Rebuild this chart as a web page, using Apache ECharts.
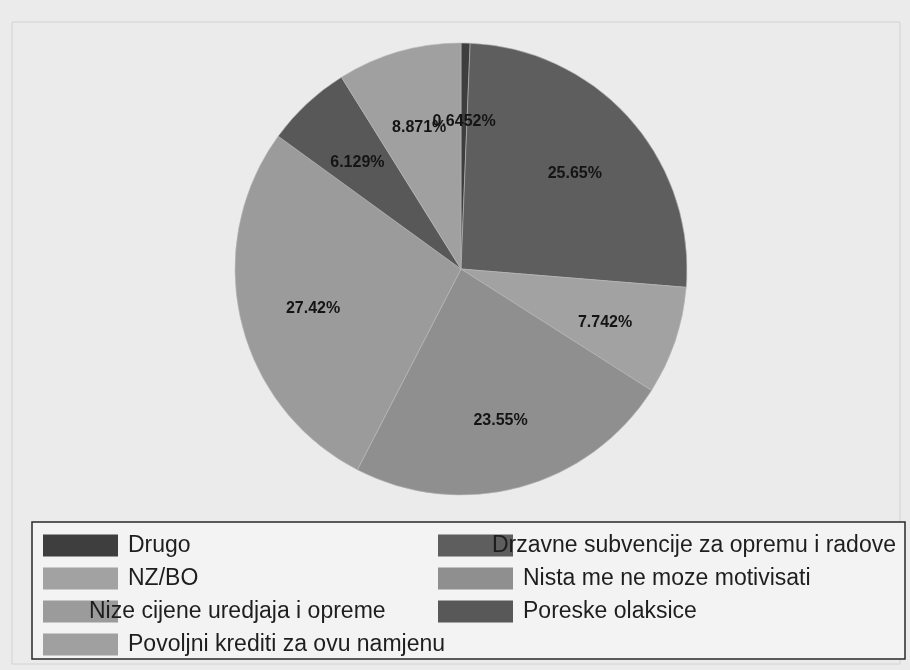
<!DOCTYPE html>
<html>
<head>
<meta charset="utf-8">
<script src="https://cdn.jsdelivr.net/npm/echarts@6/dist/echarts.min.js"></script>
<style>html,body{margin:0;padding:0;background:#ebebeb;}#c{width:910px;height:670px;}</style>
</head>
<body>
<div id="c"></div>
<script>
const categories = ["Drugo", "Drzavne subvencije za opremu i radove", "NZ/BO", "Nista me ne moze motivisati", "Nize cijene uredjaja i opreme", "Poreske olaksice", "Povoljni krediti za ovu namjenu"];
const values = [0.6452, 25.65, 7.742, 23.55, 27.42, 6.129, 8.871];
const labels = ["0.6452%", "25.65%", "7.742%", "23.55%", "27.42%", "6.129%", "8.871%"];
const colors = ["#3e3e3e", "#5e5e5e", "#a2a2a2", "#8f8f8f", "#9b9b9b", "#585858", "#a0a0a0"];
const legendCol1 = ["Drugo", "NZ/BO", "Nize cijene uredjaja i opreme", "Povoljni krediti za ovu namjenu"];
const legendCol2 = ["Drzavne subvencije za opremu i radove", "Nista me ne moze motivisati", "Poreske olaksice"];
const legendTextShift = {"Nize cijene uredjaja i opreme": -39, "Drzavne subvencije za opremu i radove": -31};

const chart = echarts.init(document.getElementById('c'), null, {renderer: 'canvas'});
const data = categories.map((n, i) => ({name: n, value: values[i], itemStyle: {color: colors[i]}}));
const labelData = categories.map((n, i) => ({name: n, value: values[i]}));
const legendItems = names => names.map(n => legendTextShift[n] !== undefined
  ? {name: n, textStyle: {padding: [0, 0, 0, 5 + legendTextShift[n]]}}
  : {name: n});
const legendCommon = {
  orient: 'vertical', top: 534, height: 200, padding: 0,
  itemWidth: 75, itemHeight: 22, itemGap: 10,
  icon: 'rect', selectedMode: false,
  itemStyle: {borderWidth: 0},
  textStyle: {fontFamily: 'Liberation Sans, Arial', fontSize: 23, lineHeight: 22, color: '#1e1e1e', padding: [0, 0, 0, 5]}
};
chart.setOption({
  backgroundColor: '#ebebeb',
  animation: false,
  graphic: [
    {type: 'rect', shape: {x: 12, y: 22, width: 888, height: 642}, style: {fill: 'none', stroke: '#d2d2d2', lineWidth: 1}, z: -1},
    {type: 'rect', shape: {x: 32, y: 522, width: 873, height: 137}, style: {fill: '#f3f3f3', stroke: '#2a2a2a', lineWidth: 1.5}, z: -1}
  ],
  legend: [
    Object.assign({}, legendCommon, {left: 43, data: legendItems(legendCol1)}),
    Object.assign({}, legendCommon, {left: 438, data: legendItems(legendCol2)})
  ],
  series: [
    {
      type: 'pie', center: [461, 269], radius: [0, 226], startAngle: 90, clockwise: true,
      data: data, label: {show: false}, labelLine: {show: false},
      itemStyle: {borderColor: '#b8b8b8', borderWidth: 0.6},
      emphasis: {disabled: true}, silent: true
    },
    {
      type: 'pie', center: [461, 269], radius: [72, 226], startAngle: 90, clockwise: true,
      data: labelData, silent: true, emphasis: {disabled: true},
      avoidLabelOverlap: false, minShowLabelAngle: 0,
      labelLayout: {hideOverlap: false},
      itemStyle: {color: 'rgba(0,0,0,0)', borderWidth: 0},
      labelLine: {show: false},
      label: {
        show: true, position: 'inside', color: '#141414', offset: [0, 5],
        fontFamily: 'Liberation Sans, Arial', fontSize: 16, fontWeight: 'bold',
        formatter: p => labels[p.dataIndex]
      }
    }
  ]
});
</script>
</body>
</html>
